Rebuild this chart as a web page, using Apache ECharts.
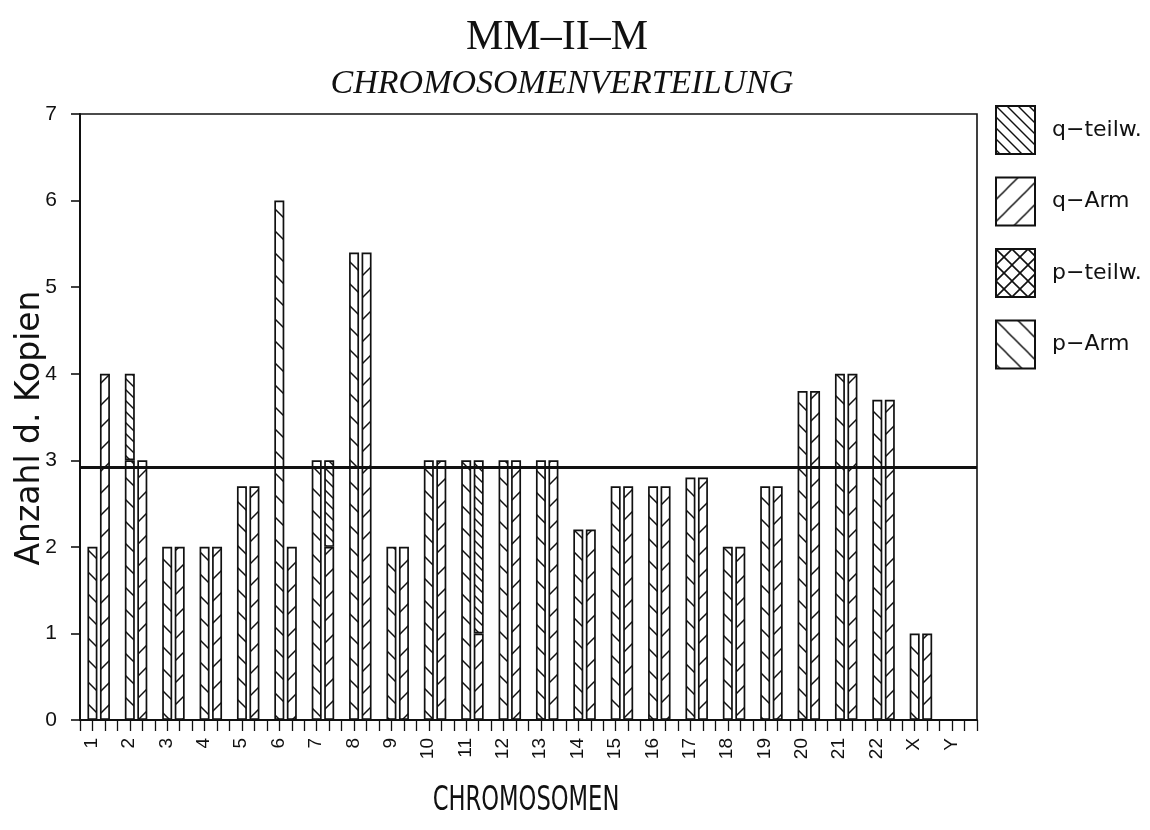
<!DOCTYPE html>
<html>
<head>
<meta charset="utf-8">
<script src="https://cdn.jsdelivr.net/npm/echarts@6/dist/echarts.min.js"></script>
<style>
  html, body { margin: 0; padding: 0; background: #fff; }
  #chart { width: 1150px; height: 830px; }
</style>
</head>
<body>
<div id="chart"></div>
<script>
// Chromosomes on the x axis
const chromosomes = ['1','2','3','4','5','6','7','8','9','10','11','12','13','14','15','16','17','18','19','20','21','22','X','Y'];

// Copy numbers, left column of each pair (p arm)
const pArm      = [2, 3, 2, 2, 2.7, 6, 3, 5.4, 2, 3, 3, 3, 3, 2.2, 2.7, 2.7, 2.8, 2, 2.7, 3.8, 4.0, 3.7, 1, 0];
const pPartial  = [null, null, null, null, null, null, null, null, null, null, null, null, null, null, null, null, null, null, null, null, null, null, null, null];
const pTopQPart = [null, 1, null, null, null, null, null, null, null, null, null, null, null, null, null, null, null, null, null, null, null, null, null, null];

// Copy numbers, right column of each pair (q arm)
const qArm      = [4, 3, 2, 2, 2.7, 2, 2, 5.4, 2, 3, 1, 3, 3, 2.2, 2.7, 2.7, 2.8, 2, 2.7, 3.8, 4.0, 3.7, 1, 0];
const qPartial  = [null, null, null, null, null, null, 1, null, null, null, 2, null, null, null, null, null, null, null, null, null, null, null, null, null];

const yTicks = [0, 1, 2, 3, 4, 5, 6, 7];
const meanCopies = 2.92;

const legendOrder = ['q-teilw.', 'q-Arm', 'p-teilw.', 'p-Arm'];
const legendText = { 'q-teilw.': 'q−teilw.', 'q-Arm': 'q−Arm', 'p-teilw.': 'p−teilw.', 'p-Arm': 'p−Arm' };
const xTitle = 'CHROMOSOMEN';

// Hatch fills drawn on small tiles: '\\' falls to the right, '/' rises to the right
function hatch(step, dirs, width) {
  const c = document.createElement('canvas');
  c.width = step; c.height = step;
  const g = c.getContext('2d');
  g.strokeStyle = '#111';
  g.lineWidth = width;
  g.lineCap = 'square';
  dirs.forEach(function (d) {
    [-step, 0, step].forEach(function (off) {
      g.beginPath();
      if (d === '\\') { g.moveTo(off, 0); g.lineTo(off + step, step); }
      else { g.moveTo(off, step); g.lineTo(off + step, 0); }
      g.stroke();
    });
  });
  return { image: c, repeat: 'repeat' };
}

const fillPArm = hatch(22, ['\\'], 1.5);
const fillQArm = hatch(22, ['/'], 1.5);
const fillQPart = hatch(11, ['\\'], 1.4);
const fillPPart = hatch(16, ['\\', '/'], 1.6);

const edge = { borderColor: '#111', borderWidth: 1.7 };
const barW = 10;

const chart = echarts.init(document.getElementById('chart'), null, { renderer: 'canvas' });

chart.setOption({
  backgroundColor: '#fff',
  animation: false,
  title: [
    {
      text: 'MM–II–M',
      left: 552, top: 12, textAlign: 'center',
      textStyle: { fontFamily: 'Liberation Serif', fontWeight: 'normal', fontSize: 42, color: '#111' }
    },
    {
      text: 'CHROMOSOMENVERTEILUNG',
      left: 557, top: 62, textAlign: 'center',
      textStyle: { fontFamily: 'Liberation Serif', fontStyle: 'italic', fontWeight: 'normal', fontSize: 34, color: '#111' }
    }
  ],
  // condensed axis caption under the chromosome labels
  graphic: [
    {
      type: 'text',
      x: 526, y: 801,
      scaleX: 0.74,
      silent: true,
      style: {
        text: xTitle,
        fontFamily: 'DejaVu Sans Condensed, DejaVu Sans',
        fontSize: 34,
        fill: '#111',
        align: 'center',
        verticalAlign: 'middle'
      }
    }
  ],
  legend: {
    data: legendOrder,
    orient: 'vertical',
    left: 990, top: 100,
    icon: 'rect',
    itemWidth: 39, itemHeight: 48, itemGap: 21.5,
    selectedMode: false,
    formatter: function (name) { return legendText[name]; },
    textStyle: { fontFamily: 'DejaVu Sans', fontSize: 22, color: '#111', padding: [0, 0, 0, 12] }
  },
  grid: {
    left: 80, right: 173, top: 114, bottom: 110,
    outerBoundsMode: 'none',
    show: true, borderColor: '#111', borderWidth: 1.6, backgroundColor: 'transparent'
  },
  xAxis: [
    {
      type: 'category',
      data: chromosomes,
      axisLine: { lineStyle: { color: '#111', width: 2 } },
      axisTick: { show: false },
      axisLabel: {
        rotate: 90, interval: 0, fontFamily: 'Liberation Sans', fontSize: 19, color: '#111',
        margin: 18, verticalAlign: 'bottom', lineHeight: 14
      }
    },
    {
      // three tick slots per chromosome
      type: 'category',
      data: chromosomes.flatMap(function (c) { return [c + 'a', c + 'b', c + 'c']; }),
      position: 'bottom',
      axisLine: { show: false },
      axisTick: { show: true, interval: 0, length: 11, lineStyle: { color: '#111', width: 1.3 } },
      axisLabel: { show: false },
      splitLine: { show: false }
    }
  ],
  yAxis: {
    type: 'value',
    min: yTicks[0], max: yTicks[yTicks.length - 1], interval: 1,
    axisLine: { show: true, lineStyle: { color: '#111', width: 2 } },
    axisTick: { show: true, length: 9, lineStyle: { color: '#111', width: 1.6 } },
    axisLabel: { fontFamily: 'Liberation Sans', fontSize: 21, color: '#111', margin: 23 },
    splitLine: { show: false },
    name: 'Anzahl d. Kopien',
    nameLocation: 'middle',
    nameRotate: 90,
    nameGap: 33,
    nameMoveOverlap: false,
    nameTextStyle: { fontFamily: 'DejaVu Sans', fontSize: 33, color: '#111', padding: [0, 22, 0, 0] }
  },
  series: [
    {
      name: 'p-Arm', type: 'bar', stack: 'p', data: pArm, barWidth: barW, barGap: '25%',
      itemStyle: Object.assign({ color: fillPArm }, edge)
    },
    {
      name: 'p-teilw.', type: 'bar', stack: 'p', data: pPartial, barWidth: barW,
      itemStyle: Object.assign({ color: fillPPart }, edge)
    },
    {
      name: 'q-teilw.', type: 'bar', stack: 'p', data: pTopQPart, barWidth: barW,
      itemStyle: Object.assign({ color: fillQPart }, edge)
    },
    {
      name: 'q-Arm', type: 'bar', stack: 'q', data: qArm, barWidth: barW,
      itemStyle: Object.assign({ color: fillQArm }, edge),
      markLine: {
        silent: true, symbol: 'none', label: { show: false },
        lineStyle: { color: '#111', width: 3.2, type: 'solid' },
        data: [{ yAxis: meanCopies }]
      }
    },
    {
      name: 'q-teilw.', type: 'bar', stack: 'q', data: qPartial, barWidth: barW,
      itemStyle: Object.assign({ color: fillQPart }, edge)
    }
  ]
});
</script>
</body>
</html>
